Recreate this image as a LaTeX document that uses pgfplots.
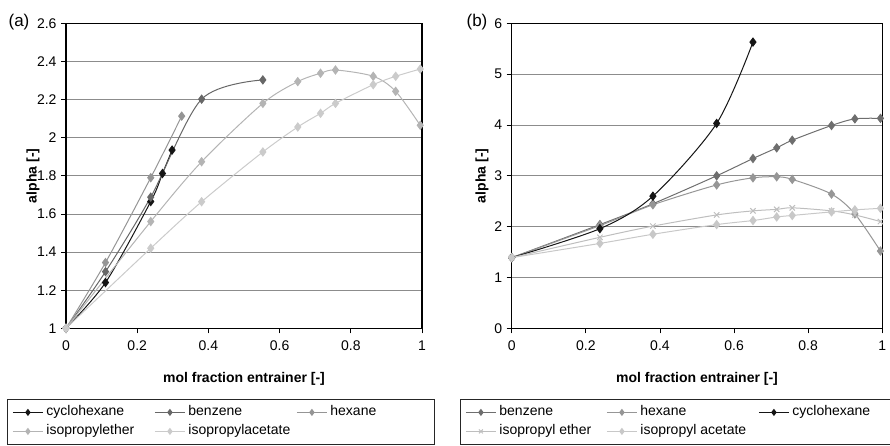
\documentclass[border=0pt]{standalone}
\usepackage{fontspec}
\setmainfont{Liberation Sans}
\usepackage{pgfplots}
\pgfplotsset{compat=1.18}
\definecolor{cyA}{HTML}{151515}
\definecolor{bzA}{HTML}{676767}
\definecolor{hxA}{HTML}{959595}
\definecolor{etA}{HTML}{B4B4B4}
\definecolor{acA}{HTML}{CBCBCB}
\definecolor{bzB}{HTML}{6E6E6E}
\definecolor{hxB}{HTML}{969696}
\definecolor{etB}{HTML}{BEBEBE}
\definecolor{acB}{HTML}{C8C8C8}
\pgfplotsset{
  myaxis/.style={
    scale only axis,
    xmin=0, xmax=1,
    font=\fontsize{14}{16}\selectfont,
    /pgf/number format/assume math mode=true,
    axis line style={black, line width=1.1pt},
    ymajorgrids,
    grid style={black!45, line width=0.8pt},
    tick align=outside,
    major tick length=5pt,
    tick style={black, line width=0.8pt},
    xtick pos=bottom, ytick pos=left,
    xtick={0,0.2,0.4,0.6,0.8,1},
    xticklabel style={yshift=-4pt},
    yticklabel style={xshift=-1pt},
    xlabel={\textbf{mol fraction entrainer [-]}},
    ylabel={\textbf{alpha [-]}},
    legend columns=3,
    legend cell align=left,
    legend image code/.code={\draw[mark repeat=2,mark phase=2,mark size=2.8pt,#1] plot coordinates {(0pt,0pt) (15pt,0pt) (30pt,0pt)};},
    every axis plot/.append style={line width=1pt, smooth, tension=0.5, mark=diamond*, mark size=4pt},
  },
  mylegend/.style={
    legend style={at={(axis description cs:#1)}, anchor=north west,
      draw=black!85, line width=0.8pt, inner xsep=5pt, inner ysep=6pt,
      row sep=5pt, column sep=0pt,
      nodes={inner xsep=3pt, inner ysep=0.5pt, text height=10pt, text depth=3pt},
      font=\fontsize{14}{16}\selectfont},
  },
}
\begin{document}
\begin{tikzpicture}
\useasboundingbox (0,0) rectangle (890pt,445pt);
% ---------------- (a) ----------------
\begin{axis}[myaxis,
  at={(66pt,116.7pt)}, anchor=south west,
  width=356pt, height=305pt,
  ymin=1, ymax=2.6,
  ytick={1,1.2,1.4,1.6,1.8,2,2.2,2.4,2.6},
  every axis x label/.style={at={(axis description cs:0.5,-0.165)}, anchor=center},
  every axis y label/.style={at={(axis description cs:-0.0927,0.5)}, anchor=center, rotate=90},
  mylegend={-0.1657,-0.2318},
]
\addplot[color=cyA, mark options={fill=cyA}] coordinates {(0,1) (0.111,1.24) (0.238,1.665) (0.271,1.812) (0.298,1.935)};
\addlegendentry{\makebox[105pt][l]{cyclohexane}}
\addplot[color=bzA, mark options={fill=bzA}] coordinates {(0,1) (0.111,1.297) (0.238,1.688) (0.381,2.202) (0.553,2.303)};
\addlegendentry{\makebox[105pt][l]{benzene}}
\addplot[color=hxA, mark options={fill=hxA}] coordinates {(0,1) (0.111,1.345) (0.238,1.79) (0.325,2.113)};
\addlegendentry{\makebox[96pt][l]{hexane}}
\addplot[color=etA, mark options={fill=etA}] coordinates {(0,1) (0.238,1.56) (0.381,1.874) (0.553,2.18) (0.651,2.294) (0.715,2.338) (0.757,2.355) (0.863,2.322) (0.926,2.243) (0.995,2.065)};
\addlegendentry{\makebox[105pt][l]{isopropylether}}
\addplot[color=acA, mark options={fill=acA}] coordinates {(0,1) (0.238,1.42) (0.381,1.664) (0.553,1.925) (0.651,2.056) (0.715,2.128) (0.757,2.18) (0.863,2.278) (0.926,2.322) (0.995,2.36)};
\addlegendentry{\makebox[105pt][l]{isopropylacetate}}
\end{axis}
\node[font=\fontsize{17}{19}\selectfont] at (19pt,423pt) {(a)};
% ---------------- (b) ----------------
\begin{axis}[myaxis,
  at={(511.7pt,116.7pt)}, anchor=south west,
  width=370.6pt, height=305pt,
  ymin=0, ymax=6,
  ytick={0,1,2,3,4,5,6},
  every axis x label/.style={at={(axis description cs:0.5,-0.165)}, anchor=center},
  every axis y label/.style={at={(axis description cs:-0.080,0.5)}, anchor=center, rotate=90},
  mylegend={-0.1395,-0.2318},
]
\addplot[color=bzB, mark options={fill=bzB}] coordinates {(0,1.39) (0.238,2.04) (0.381,2.45) (0.553,3.0) (0.651,3.34) (0.715,3.55) (0.757,3.70) (0.863,3.99) (0.926,4.12) (0.995,4.13)};
\addlegendentry{\makebox[104pt][l]{benzene}}
\addplot[color=hxB, mark options={fill=hxB}] coordinates {(0,1.39) (0.238,2.02) (0.381,2.43) (0.553,2.82) (0.651,2.96) (0.715,2.98) (0.757,2.93) (0.863,2.64) (0.926,2.25) (0.995,1.52)};
\addlegendentry{\makebox[115pt][l]{hexane}}
\addplot[color=cyA, mark options={fill=cyA}] coordinates {(0,1.39) (0.238,1.96) (0.381,2.60) (0.553,4.03) (0.651,5.63)};
\addlegendentry{\makebox[93pt][l]{cyclohexane}}
\addplot[color=etB, mark=x, mark size=3.8pt] coordinates {(0,1.39) (0.238,1.79) (0.381,2.01) (0.553,2.23) (0.651,2.31) (0.715,2.34) (0.757,2.37) (0.863,2.31) (0.926,2.23) (0.995,2.10)};
\addlegendentry{\makebox[104pt][l]{isopropyl ether}}
\addplot[color=acB, mark options={fill=acB}] coordinates {(0,1.39) (0.238,1.67) (0.381,1.85) (0.553,2.04) (0.651,2.12) (0.715,2.19) (0.757,2.22) (0.863,2.29) (0.926,2.33) (0.995,2.36)};
\addlegendentry{\makebox[115pt][l]{isopropyl acetate}}
\end{axis}
\node[font=\fontsize{17}{19}\selectfont] at (477pt,423pt) {(b)};
\end{tikzpicture}
\end{document}
